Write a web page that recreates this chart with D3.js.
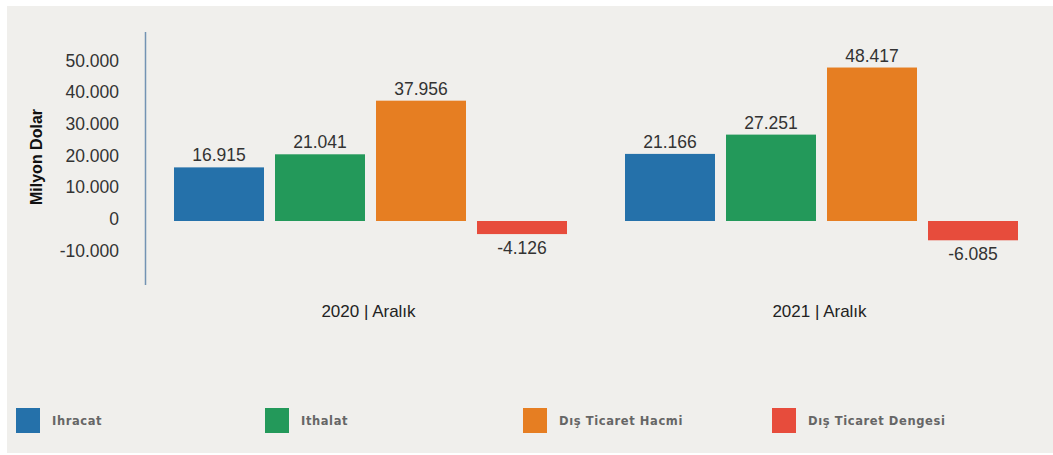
<!DOCTYPE html>
<html>
<head>
<meta charset="utf-8">
<script src="https://cdn.jsdelivr.net/npm/d3@7"></script>
<style>
  html, body { margin: 0; padding: 0; background: #ffffff; }
  svg { display: block; }
</style>
</head>
<body>
<svg id="chart" width="1053" height="455"></svg>
<script>
// ---- data ----
const periods = ["2020 | Aralık", "2021 | Aralık"];
const seriesNames = ["Ihracat", "Ithalat", "Dış Ticaret Hacmi", "Dış Ticaret Dengesi"];
const values2020 = [16915, 21041, 37956, -4126];
const values2021 = [21166, 27251, 48417, -6085];
const seriesColors = ["#2571aa", "#23995a", "#e67e22", "#e74c3c"];
const yTicks = [-10000, 0, 10000, 20000, 30000, 40000, 50000];

const valuesByPeriod = [values2020, values2021];

const svg = d3.select("#chart");
const W = 1053, H = 455;

// panel background
svg.append("rect").attr("x", 7).attr("y", 6).attr("width", W - 7).attr("height", 447)
  .attr("fill", "#f0efec");

const fmt = v => d3.format(",")(v).replace(/,/g, ".").replace(/\u2212/g, "-");

const y = d3.scaleLinear().domain([0, 50000]).range([221, 62.5]);

const x0 = d3.scaleBand().domain(periods).range([145, 1047]).padding(0);
const x1 = d3.scaleBand().domain(seriesNames)
  .range([(x0.bandwidth() - 393) / 2, (x0.bandwidth() + 393) / 2])
  .paddingInner(0.109).paddingOuter(0);

// y axis line
svg.append("line").attr("x1", 145.5).attr("x2", 145.5).attr("y1", 32).attr("y2", 285)
  .attr("stroke", "#7393b3").attr("stroke-width", 1.5);

// y ticks
const yAxis = d3.axisLeft(y).tickValues(yTicks).tickSize(0).tickPadding(0)
  .tickFormat(d => d === 0 ? "0" : fmt(d));
const ya = svg.append("g").attr("transform", "translate(119,-2)").call(yAxis);
ya.select(".domain").remove();
ya.selectAll("text")
  .attr("font-family", "Liberation Sans, Arial, sans-serif")
  .attr("font-size", 17.5).attr("fill", "#333").attr("dy", "0.32em");

// y title
svg.append("text")
  .attr("transform", "translate(42,157) rotate(-90)")
  .attr("text-anchor", "middle")
  .attr("font-family", "Liberation Sans, Arial, sans-serif")
  .attr("font-weight", "bold").attr("font-size", 16).attr("fill", "#111")
  .text("Milyon Dolar");

// bars
const groups = svg.append("g").selectAll("g").data(periods).join("g")
  .attr("transform", d => `translate(${x0(d)},0)`);

groups.each(function(p, pi) {
  const g = d3.select(this);
  const data = seriesNames.map((s, i) => ({ s, v: valuesByPeriod[pi][i], c: seriesColors[i] }));
  g.selectAll("rect").data(data).join("rect")
    .attr("x", d => x1(d.s))
    .attr("width", x1.bandwidth())
    .attr("y", d => Math.min(y(d.v), y(0)))
    .attr("height", d => Math.abs(y(d.v) - y(0)))
    .attr("fill", d => d.c);
  g.selectAll("text.val").data(data).join("text")
    .attr("class", "val")
    .attr("x", d => x1(d.s) + x1.bandwidth() / 2)
    .attr("y", d => d.v >= 0 ? y(d.v) - 6 : y(d.v) + 20)
    .attr("text-anchor", "middle")
    .attr("font-family", "Liberation Sans, Arial, sans-serif")
    .attr("font-size", 17.5).attr("fill", "#333")
    .text(d => fmt(d.v));
  g.append("text")
    .attr("x", x0.bandwidth() / 2 - 2)
    .attr("y", 317)
    .attr("text-anchor", "middle")
    .attr("font-family", "Liberation Sans, Arial, sans-serif")
    .attr("font-size", 17).attr("fill", "#222")
    .text(p);
});

// legend
const legendX = [16, 265, 523, 772];
const lg = svg.append("g").selectAll("g").data(seriesNames).join("g")
  .attr("transform", (d, i) => `translate(${legendX[i]},408)`);
lg.append("rect").attr("width", 24).attr("height", 25)
  .attr("fill", (d, i) => seriesColors[i]);
lg.append("text").attr("x", 36).attr("y", 17)
  .attr("font-family", "DejaVu Sans, Verdana, sans-serif")
  .attr("font-weight", "bold").attr("font-size", 11.5)
  .attr("letter-spacing", 0.6)
  .attr("fill", "#666")
  .text(d => d);
</script>
</body>
</html>
